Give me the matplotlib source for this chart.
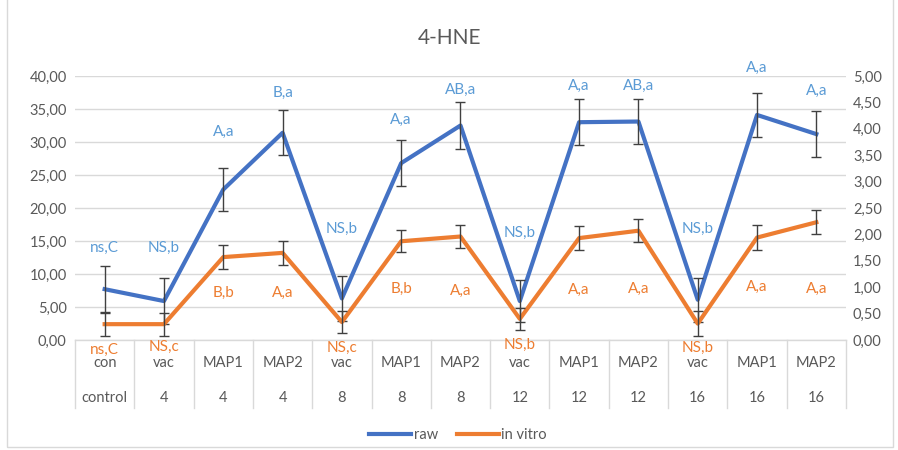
import numpy as np
import matplotlib
matplotlib.use("Agg")
import matplotlib.pyplot as plt
from matplotlib.lines import Line2D
from matplotlib.patches import Rectangle
import matplotlib.transforms as mtransforms

plt.rcParams['font.family'] = ['Lato', 'DejaVu Sans']

# ---- data ----
row1 = ["con", "vac", "MAP1", "MAP2", "vac", "MAP1", "MAP2", "vac", "MAP1", "MAP2", "vac", "MAP1", "MAP2"]
row2 = ["control", "4", "4", "4", "8", "8", "8", "12", "12", "12", "16", "16", "16"]
raw = [7.7, 5.9, 22.8, 31.4, 6.3, 26.8, 32.5, 5.9, 33.0, 33.1, 6.1, 34.1, 31.2]
raw_err = [3.5, 3.5, 3.3, 3.4, 3.4, 3.5, 3.5, 3.2, 3.5, 3.4, 3.3, 3.3, 3.5]
invitro = [0.30, 0.30, 1.57, 1.65, 0.34, 1.87, 1.96, 0.40, 1.93, 2.07, 0.31, 1.94, 2.23]
invitro_err = [0.22, 0.22, 0.22, 0.23, 0.21, 0.21, 0.21, 0.21, 0.23, 0.22, 0.23, 0.23, 0.23]
raw_labels = ["ns,C", "NS,b", "A,a", "B,a", "NS,b", "A,a", "AB,a", "NS,b", "A,a", "AB,a", "NS,b", "A,a", "A,a"]
invitro_labels = ["ns,C", "NS,c", "B,b", "A,a", "NS,c", "B,b", "A,a", "NS,b", "A,a", "A,a", "NS,b", "A,a", "A,a"]
# label placement heights (left-axis units)
raw_label_y = [14.0, 14.0, 31.6, 37.5, 16.8, 33.3, 37.9, 16.3, 38.5, 38.5, 16.8, 41.2, 37.8]
invitro_label_y = [-1.5, -1.1, 7.1, 7.2, -1.2, 7.7, 7.5, -0.8, 7.6, 7.7, -1.2, 8.1, 7.8]

BLUE = "#4472C4"
ORANGE = "#ED7D31"
BLUE_LAB = "#5B9BD5"
GRAY = "#595959"
GRID = "#D9D9D9"
ERR = "#404040"

W, H = 898, 450
fig = plt.figure(figsize=(W / 100, H / 100), dpi=100)
L, R, T, B = 75, 846, 76, 340
ax = fig.add_axes([L / W, 1 - B / H, (R - L) / W, (B - T) / H])
ax2 = ax.twinx()

x = np.arange(len(row1))
ax.set_xlim(-0.5, len(row1) - 0.5)
ax.set_ylim(0, 40)
ax2.set_ylim(0, 5)
ax.set_yticks(np.arange(0, 40.1, 5))
ax2.set_yticks(np.arange(0, 5.01, 0.5))
ax.set_yticklabels([f"{v:.2f}".replace('.', ',') for v in np.arange(0, 40.1, 5)])
ax2.set_yticklabels([f"{v:.2f}".replace('.', ',') for v in np.arange(0, 5.01, 0.5)])
for a in (ax, ax2):
    for s in a.spines.values():
        s.set_visible(False)
    a.tick_params(axis='y', length=0, labelsize=10.5, colors=GRAY)
    a.set_xticks([])
ax.tick_params(axis='y', pad=6)
ax2.tick_params(axis='y', pad=5)
ax.yaxis.grid(True, color=GRID, lw=1)
ax.set_axisbelow(True)
ax2.patch.set_visible(False)

# lines
ax.plot(x, raw, color=BLUE, lw=3.0, solid_joinstyle='round', zorder=3)
ax.errorbar(x, raw, yerr=raw_err, fmt='none', ecolor=ERR, elinewidth=1.0, capsize=3.6, capthick=1.0, zorder=4)
ax2.plot(x, invitro, color=ORANGE, lw=3.0, solid_joinstyle='round', zorder=3)
ax2.errorbar(x, invitro, yerr=invitro_err, fmt='none', ecolor=ERR, elinewidth=1.0, capsize=3.6, capthick=1.0, zorder=4)

# data labels
for i in range(len(x)):
    ax.text(x[i], raw_label_y[i], raw_labels[i], color=BLUE_LAB, fontsize=11, ha='center', va='center', clip_on=False)
    ax2.text(x[i], invitro_label_y[i] / 8.0, invitro_labels[i], color=ORANGE, fontsize=11, ha='center', va='center', clip_on=False, zorder=6)

# category table
trans = mtransforms.blended_transform_factory(ax.transData, ax.transAxes)
axh = (B - T)
def fy(py):
    return (B - py) / axh
for k in range(len(x) + 1):
    ax.plot([k - 0.5, k - 0.5], [0, fy(408)], color=GRID, lw=1, transform=trans, clip_on=False)
ax.plot([-0.5, len(x) - 0.5], [0, 0], color=GRID, lw=1, transform=trans, clip_on=False)
for i in range(len(x)):
    ax.text(x[i], fy(363), row1[i], ha='center', va='center', fontsize=10.5, color=GRAY, transform=trans)
    ax.text(x[i], fy(398), row2[i], ha='center', va='center', fontsize=10.5, color=GRAY, transform=trans)

# title
fig.text(450 / W, 1 - 38 / H, "4-HNE", ha='center', va='center', fontsize=15, color=GRAY)

# legend
handles = [Line2D([0], [0], color=BLUE, lw=3), Line2D([0], [0], color=ORANGE, lw=3)]
fig.legend(handles, ["raw", "in vitro"], loc='center', bbox_to_anchor=(458 / W, 1 - 435 / H), ncol=2,
           frameon=False, fontsize=10.5, labelcolor=GRAY, handlelength=2.9, handletextpad=0.15, columnspacing=1.3)

# chart border
fig.patches.append(Rectangle((7 / W, 3 / H), (893 - 7) / W, 1.2, transform=fig.transFigure,
                             fill=False, edgecolor=GRID, lw=1))

fig.savefig("out.png", dpi=100)
